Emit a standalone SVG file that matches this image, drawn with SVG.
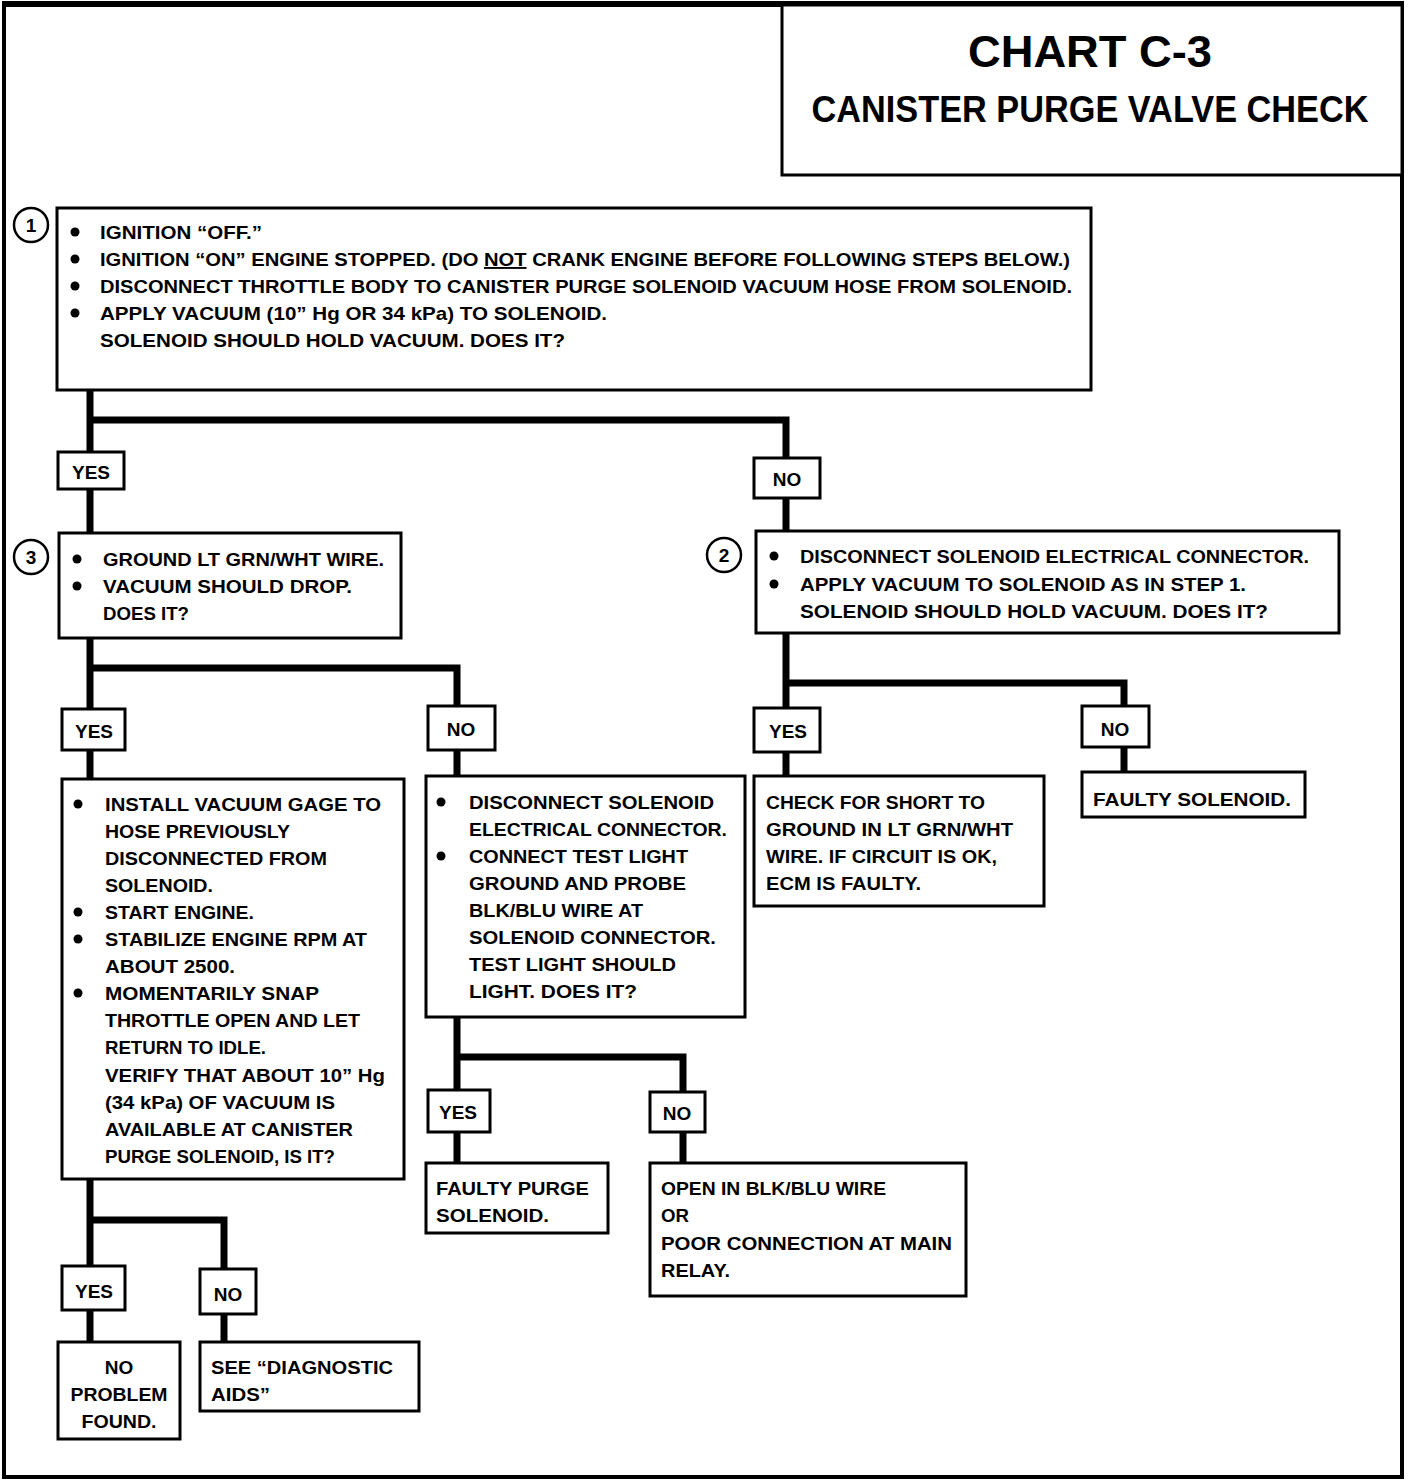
<svg xmlns="http://www.w3.org/2000/svg" width="1408" height="1482" viewBox="0 0 1408 1482" xml:space="preserve">
<style>
.box{fill:#fff;stroke:#000;stroke-width:3}
.lbl{fill:#fff;stroke:#000;stroke-width:3}
.con{fill:none;stroke:#000;stroke-width:7;stroke-linejoin:miter;stroke-linecap:butt}
.t{font-family:"Liberation Sans",Arial,sans-serif;font-weight:bold;font-size:19px;fill:#000}
.m{text-anchor:middle}
.num{fill:#fff;stroke:#000;stroke-width:2.5}
</style>
<rect width="1408" height="1482" fill="#fff"/>
<rect x="4" y="4" width="1398" height="1473" fill="none" stroke="#000" stroke-width="4"/>
<line x1="2" y1="4" x2="1404" y2="4" stroke="#000" stroke-width="6"/>

<g id="title">
<rect x="782" y="5" width="620" height="170" fill="#fff" stroke="#000" stroke-width="3"/>
<text class="t m" x="1090" y="67" style="font-size:44px" textLength="244" lengthAdjust="spacingAndGlyphs">CHART C-3</text>
<text class="t m" x="1090" y="122" style="font-size:36px" textLength="557" lengthAdjust="spacingAndGlyphs">CANISTER PURGE VALVE CHECK</text>
</g>

<g id="connectors">
<path class="con" d="M90 390 V533"/>
<path class="con" d="M90 420 H786 V531"/>
<path class="con" d="M90 638 V779"/>
<path class="con" d="M90 668 H457 V777"/>
<path class="con" d="M786 633 V776"/>
<path class="con" d="M786 683 H1124 V772"/>
<path class="con" d="M457 1017 V1163"/>
<path class="con" d="M457 1057 H683 V1163"/>
<path class="con" d="M90 1179 V1342"/>
<path class="con" d="M90 1220 H224 V1342"/>
</g>

<g id="step1">
<rect class="box" x="57" y="208" width="1034" height="182"/>
<circle class="num" cx="31" cy="225" r="17"/>
<text class="t m" x="31" y="232">1</text>
<circle cx="75" cy="232" r="4.5"/><circle cx="75" cy="259" r="4.5"/><circle cx="75" cy="286" r="4.5"/><circle cx="75" cy="313" r="4.5"/>
<text class="t" x="100" y="239" textLength="162" lengthAdjust="spacingAndGlyphs">IGNITION “OFF.”</text>
<text class="t" x="100" y="266" textLength="970" lengthAdjust="spacingAndGlyphs">IGNITION “ON” ENGINE STOPPED. (DO <tspan text-decoration="underline">NOT</tspan> CRANK ENGINE BEFORE FOLLOWING STEPS BELOW.)</text>
<text class="t" x="100" y="293" textLength="972" lengthAdjust="spacingAndGlyphs">DISCONNECT THROTTLE BODY TO CANISTER PURGE SOLENOID VACUUM HOSE FROM SOLENOID.</text>
<text class="t" x="100" y="320" textLength="507" lengthAdjust="spacingAndGlyphs">APPLY VACUUM (10” Hg OR 34 kPa) TO SOLENOID.</text>
<text class="t" x="100" y="347" textLength="465" lengthAdjust="spacingAndGlyphs">SOLENOID SHOULD HOLD VACUUM.  DOES IT?</text>
</g>

<g id="yes1">
<rect class="lbl" x="58" y="452" width="66" height="37"/>
<text class="t m" x="91" y="479">YES</text>
</g>
<g id="no1">
<rect class="lbl" x="754" y="458" width="66" height="40"/>
<text class="t m" x="787" y="486">NO</text>
</g>

<g id="step3">
<rect class="box" x="59" y="533" width="342" height="105"/>
<circle class="num" cx="31" cy="557" r="17"/>
<text class="t m" x="31" y="564">3</text>
<circle cx="77" cy="559" r="4.5"/><circle cx="77" cy="586" r="4.5"/>
<text class="t" x="103" y="566" textLength="281" lengthAdjust="spacingAndGlyphs">GROUND LT GRN/WHT WIRE.</text>
<text class="t" x="103" y="593" textLength="249" lengthAdjust="spacingAndGlyphs">VACUUM SHOULD DROP.</text>
<text class="t" x="103" y="620" textLength="86" lengthAdjust="spacingAndGlyphs">DOES IT?</text>
</g>

<g id="step2">
<rect class="box" x="756" y="531" width="583" height="102"/>
<circle class="num" cx="724" cy="555" r="17"/>
<text class="t m" x="724" y="562">2</text>
<circle cx="774" cy="556" r="4.5"/><circle cx="774" cy="584" r="4.5"/>
<text class="t" x="800" y="563" textLength="509" lengthAdjust="spacingAndGlyphs">DISCONNECT SOLENOID ELECTRICAL CONNECTOR.</text>
<text class="t" x="800" y="591" textLength="446" lengthAdjust="spacingAndGlyphs">APPLY VACUUM TO SOLENOID AS IN STEP 1.</text>
<text class="t" x="800" y="618" textLength="468" lengthAdjust="spacingAndGlyphs">SOLENOID SHOULD HOLD VACUUM.  DOES IT?</text>
</g>

<g id="yes3">
<rect class="lbl" x="62" y="709" width="63" height="41"/>
<text class="t m" x="94" y="738">YES</text>
</g>
<g id="no3">
<rect class="lbl" x="428" y="706" width="67" height="44"/>
<text class="t m" x="461" y="736">NO</text>
</g>
<g id="yes2">
<rect class="lbl" x="754" y="708" width="66" height="44"/>
<text class="t m" x="788" y="738">YES</text>
</g>
<g id="no2">
<rect class="lbl" x="1082" y="706" width="67" height="41"/>
<text class="t m" x="1115" y="736">NO</text>
</g>

<g id="gage">
<rect class="box" x="62" y="779" width="342" height="400"/>
<circle cx="78" cy="804" r="4.5"/><circle cx="78" cy="912" r="4.5"/><circle cx="78" cy="939" r="4.5"/><circle cx="78" cy="993" r="4.5"/>
<text class="t" x="105" y="811" textLength="276" lengthAdjust="spacingAndGlyphs">INSTALL VACUUM GAGE TO</text>
<text class="t" x="105" y="838" textLength="185" lengthAdjust="spacingAndGlyphs">HOSE PREVIOUSLY</text>
<text class="t" x="105" y="865" textLength="222" lengthAdjust="spacingAndGlyphs">DISCONNECTED FROM</text>
<text class="t" x="105" y="892" textLength="108" lengthAdjust="spacingAndGlyphs">SOLENOID.</text>
<text class="t" x="105" y="919" textLength="149" lengthAdjust="spacingAndGlyphs">START ENGINE.</text>
<text class="t" x="105" y="946" textLength="262" lengthAdjust="spacingAndGlyphs">STABILIZE ENGINE RPM AT</text>
<text class="t" x="105" y="973" textLength="130" lengthAdjust="spacingAndGlyphs">ABOUT 2500.</text>
<text class="t" x="105" y="1000" textLength="214" lengthAdjust="spacingAndGlyphs">MOMENTARILY SNAP</text>
<text class="t" x="105" y="1027" textLength="255" lengthAdjust="spacingAndGlyphs">THROTTLE OPEN AND LET</text>
<text class="t" x="105" y="1054" textLength="161" lengthAdjust="spacingAndGlyphs">RETURN TO IDLE.</text>
<text class="t" x="105" y="1082" textLength="280" lengthAdjust="spacingAndGlyphs">VERIFY THAT ABOUT 10” Hg</text>
<text class="t" x="105" y="1109" textLength="230" lengthAdjust="spacingAndGlyphs">(34 kPa) OF VACUUM IS</text>
<text class="t" x="105" y="1136" textLength="248" lengthAdjust="spacingAndGlyphs">AVAILABLE AT CANISTER</text>
<text class="t" x="105" y="1163" textLength="230" lengthAdjust="spacingAndGlyphs">PURGE SOLENOID, IS IT?</text>
</g>

<g id="testlight">
<rect class="box" x="426" y="776" width="319" height="241"/>
<circle cx="441" cy="802" r="4.5"/><circle cx="441" cy="856" r="4.5"/>
<text class="t" x="469" y="809" textLength="245" lengthAdjust="spacingAndGlyphs">DISCONNECT SOLENOID</text>
<text class="t" x="469" y="836" textLength="258" lengthAdjust="spacingAndGlyphs">ELECTRICAL CONNECTOR.</text>
<text class="t" x="469" y="863" textLength="219" lengthAdjust="spacingAndGlyphs">CONNECT TEST LIGHT</text>
<text class="t" x="469" y="890" textLength="217" lengthAdjust="spacingAndGlyphs">GROUND AND PROBE</text>
<text class="t" x="469" y="917" textLength="174" lengthAdjust="spacingAndGlyphs">BLK/BLU WIRE AT</text>
<text class="t" x="469" y="944" textLength="247" lengthAdjust="spacingAndGlyphs">SOLENOID CONNECTOR.</text>
<text class="t" x="469" y="971" textLength="207" lengthAdjust="spacingAndGlyphs">TEST LIGHT SHOULD</text>
<text class="t" x="469" y="998" textLength="168" lengthAdjust="spacingAndGlyphs">LIGHT.  DOES IT?</text>
</g>

<g id="checkshort">
<rect class="box" x="754" y="776" width="290" height="130"/>
<text class="t" x="766" y="809" textLength="219" lengthAdjust="spacingAndGlyphs">CHECK FOR SHORT TO</text>
<text class="t" x="766" y="836" textLength="247" lengthAdjust="spacingAndGlyphs">GROUND IN LT GRN/WHT</text>
<text class="t" x="766" y="863" textLength="231" lengthAdjust="spacingAndGlyphs">WIRE.  IF CIRCUIT IS OK,</text>
<text class="t" x="766" y="890" textLength="155" lengthAdjust="spacingAndGlyphs">ECM IS FAULTY.</text>
</g>

<g id="faultysolenoid">
<rect class="box" x="1082" y="772" width="223" height="45"/>
<text class="t" x="1093" y="806" textLength="198" lengthAdjust="spacingAndGlyphs">FAULTY SOLENOID.</text>
</g>

<g id="yes4">
<rect class="lbl" x="428" y="1090" width="62" height="42"/>
<text class="t m" x="458" y="1119">YES</text>
</g>
<g id="no4">
<rect class="lbl" x="650" y="1092" width="55" height="40"/>
<text class="t m" x="677" y="1120">NO</text>
</g>

<g id="faultypurge">
<rect class="box" x="426" y="1163" width="182" height="70"/>
<text class="t" x="436" y="1195" textLength="153" lengthAdjust="spacingAndGlyphs">FAULTY PURGE</text>
<text class="t" x="436" y="1222" textLength="113" lengthAdjust="spacingAndGlyphs">SOLENOID.</text>
</g>

<g id="openwire">
<rect class="box" x="650" y="1163" width="316" height="133"/>
<text class="t" x="661" y="1195" textLength="225" lengthAdjust="spacingAndGlyphs">OPEN IN BLK/BLU WIRE</text>
<text class="t" x="661" y="1222" textLength="28" lengthAdjust="spacingAndGlyphs">OR</text>
<text class="t" x="661" y="1250" textLength="291" lengthAdjust="spacingAndGlyphs">POOR CONNECTION AT MAIN</text>
<text class="t" x="661" y="1277" textLength="69" lengthAdjust="spacingAndGlyphs">RELAY.</text>
</g>

<g id="yes5">
<rect class="lbl" x="62" y="1266" width="63" height="44"/>
<text class="t m" x="94" y="1298">YES</text>
</g>
<g id="no5">
<rect class="lbl" x="200" y="1269" width="56" height="45"/>
<text class="t m" x="228" y="1301">NO</text>
</g>

<g id="noproblem">
<rect class="box" x="58" y="1342" width="122" height="97"/>
<text class="t m" x="119" y="1374">NO</text>
<text class="t m" x="119" y="1401" textLength="97" lengthAdjust="spacingAndGlyphs">PROBLEM</text>
<text class="t m" x="119" y="1428" textLength="75" lengthAdjust="spacingAndGlyphs">FOUND.</text>
</g>

<g id="diagaids">
<rect class="box" x="200" y="1342" width="219" height="69"/>
<text class="t" x="211" y="1374" textLength="182" lengthAdjust="spacingAndGlyphs">SEE “DIAGNOSTIC</text>
<text class="t" x="211" y="1401" textLength="59" lengthAdjust="spacingAndGlyphs">AIDS”</text>
</g>
</svg>
